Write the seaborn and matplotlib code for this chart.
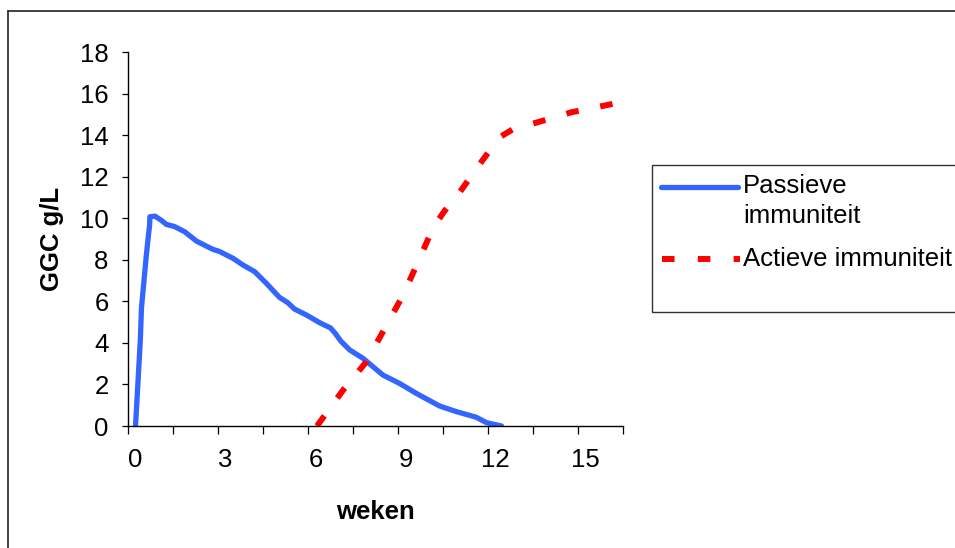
import numpy as np
import pandas as pd
import matplotlib
matplotlib.use("Agg")
import matplotlib.pyplot as plt
import seaborn as sns
from matplotlib.lines import Line2D
from matplotlib.patches import Rectangle

# passieve immuniteit (blauw)
passief_weken = [0.0, 0.16, 0.2, 0.36, 0.44, 0.47, 0.48, 0.65, 0.86, 1.03, 1.3, 1.64,
                 2.03, 2.58, 2.8, 3.25, 3.58, 3.97, 4.36, 4.8, 5.08, 5.3, 5.7, 6.14,
                 6.5, 6.64, 6.86, 7.14, 7.58, 8.25, 8.8, 9.36, 10.14, 10.7, 11.36,
                 11.7, 12.2]
passief_ggc = [0.0, 4.1, 5.7, 8.2, 9.3, 9.65, 10.07, 10.1, 9.9, 9.7, 9.6, 9.35,
               8.9, 8.5, 8.4, 8.07, 7.75, 7.43, 6.87, 6.19, 5.93, 5.63, 5.34, 4.97,
               4.72, 4.49, 4.06, 3.66, 3.26, 2.45, 2.05, 1.57, 0.96, 0.69, 0.42,
               0.16, 0.0]

# actieve immuniteit (rood, gestippeld)
actief_weken = [6.05, 6.92, 7.7, 8.31, 8.92, 9.42, 9.92, 10.3, 10.7, 11.42, 12.14, 12.6,
                13.36, 14.53, 15.9]
actief_ggc = [0.0, 1.73, 3.1, 4.7, 6.3, 7.9, 9.54, 10.35, 11.03, 12.5, 13.9, 14.3,
              14.6, 15.1, 15.5]

x_labels = [0, 3, 6, 9, 12, 15]
y_ticks = list(range(0, 19, 2))
labels = ["Passieve\nimmuniteit", "Actieve immuniteit"]

sns.set_style("white")
plt.rcParams["font.family"] = ["Liberation Sans", "DejaVu Sans"]
plt.rcParams["text.color"] = "black"
plt.rcParams["axes.labelcolor"] = "black"
plt.rcParams["xtick.color"] = "black"
plt.rcParams["ytick.color"] = "black"
fs = 18.5

W, H = 955, 548
fig = plt.figure(figsize=(W / 100, H / 100), dpi=100)
ax = fig.add_axes([128 / W, 1 - 426 / H, (623 - 128) / W, (426 - 52) / H])

blue = "#3366FF"
red = "#FF0000"
blue_lw = 3.8
red_lw = 4.3

sns.lineplot(x=passief_weken, y=passief_ggc, ax=ax, sort=False, estimator=None,
             color=blue, linewidth=blue_lw, solid_capstyle="round", solid_joinstyle="round")
sns.lineplot(x=actief_weken, y=actief_ggc, ax=ax, sort=False, estimator=None,
             color=red, linewidth=red_lw, dashes=False)

ax.set_xlim(-0.25, 16.25)
ax.set_ylim(0, 18)

# streepjes zo verdelen dat de lijn met een streepje begint en eindigt
red_line = ax.lines[-1]
pts = ax.transData.transform(np.column_stack([actief_weken, actief_ggc]))
length_lw = np.sum(np.hypot(*np.diff(pts, axis=0).T)) / (red_lw * 100 / 72)
dash_on = 2.1
n = round((length_lw - dash_on) / 6.0)
red_dash = [dash_on, (length_lw - dash_on) / n - dash_on]
red_line.set_linestyle((0, red_dash))
red_line.set_dash_capstyle("butt")

ax.set_xticks(x_labels)
ax.set_xticklabels([str(v) for v in x_labels], fontsize=fs)
ax.set_xticks(np.arange(-0.25, 16.3, 1.5), minor=True)
ax.tick_params(axis="x", which="major", length=0, pad=16)
ax.tick_params(axis="x", which="minor", length=6, width=0.9, direction="out", bottom=True)
ax.set_yticks(y_ticks)
ax.set_yticklabels([str(v) for v in y_ticks], fontsize=fs)
ax.tick_params(axis="y", length=4, width=0.9, direction="out", pad=10, left=True)

for side in ["top", "right"]:
    ax.spines[side].set_visible(False)
for side in ["left", "bottom"]:
    ax.spines[side].set_color("black")
    ax.spines[side].set_linewidth(1.0)

ax.set_xlabel("weken", fontsize=fs, fontweight="bold")
ax.set_ylabel("GGC g/L", fontsize=fs, fontweight="bold")
ax.xaxis.set_label_coords((375 - 128) / 495, -(512 - 426) / 374)
ax.yaxis.set_label_coords((52 - 128) / 495, (426 - 239) / 374)
ax.xaxis.label.set_va("center")
ax.yaxis.label.set_va("center")

# legenda
fig.add_artist(Rectangle((652 / W, 1 - 312 / H), 400 / W, (312 - 165) / H,
                         transform=fig.transFigure, fill=False, edgecolor="#333333",
                         linewidth=1.0))
fig.add_artist(Line2D([661 / W, 738 / W], [1 - 187 / H] * 2, transform=fig.transFigure,
                      color=blue, linewidth=blue_lw, solid_capstyle="round"))
fig.add_artist(Line2D([662 / W, 740 / W], [1 - 259 / H] * 2, transform=fig.transFigure,
                      color=red, linewidth=red_lw, dashes=[2.1, 3.9], dash_capstyle="butt"))
fig.text(743 / W, 1 - 186 / H, "Passieve", fontsize=fs, va="center", ha="left")
fig.text(743 / W, 1 - 216 / H, "immuniteit", fontsize=fs, va="center", ha="left")
fig.text(743 / W, 1 - 259 / H, labels[1], fontsize=fs, va="center", ha="left")

# rand
fig.add_artist(Line2D([8 / W, 8 / W], [0, 1 - 11 / H], transform=fig.transFigure,
                      color="#222222", linewidth=1.2))
fig.add_artist(Line2D([8 / W, 1], [1 - 11 / H] * 2, transform=fig.transFigure,
                      color="#222222", linewidth=1.2))

fig.savefig("out.png", dpi=100)
